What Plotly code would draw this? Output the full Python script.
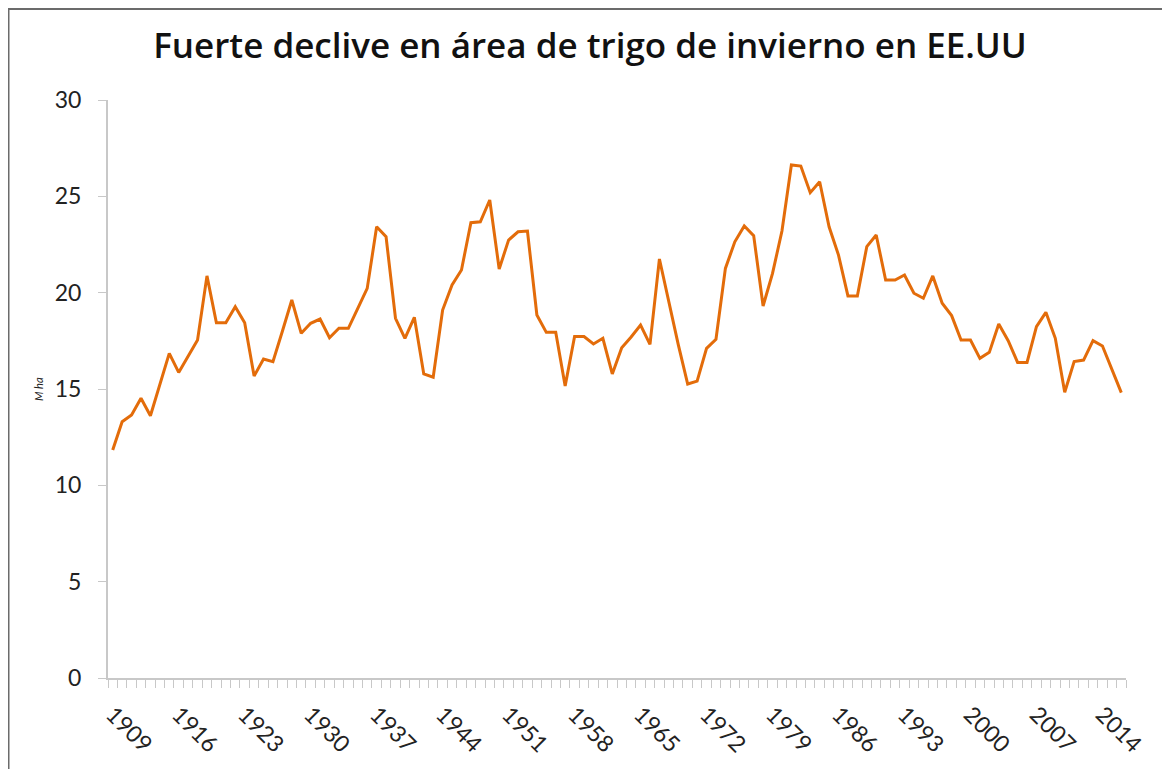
import plotly.graph_objects as go

years = list(range(1909, 2017))
area_mha = [
    11.83, 13.30, 13.65, 14.52, 13.61, 15.25, 16.85, 15.86, 16.68, 17.54,  # 1909-1918
    20.87, 18.44, 18.44, 19.27, 18.44, 15.67, 16.56, 16.42, 18.00, 19.62,  # 1919-1928
    17.89, 18.41, 18.63, 17.66, 18.15, 18.15, 19.19, 20.22, 23.42, 22.90,  # 1929-1938
    18.67, 17.63, 18.72, 15.78, 15.61, 19.10, 20.40, 21.18, 23.63, 23.68,  # 1939-1948
    24.81, 21.23, 22.73, 23.16, 23.20, 18.84, 17.94, 17.94, 15.16, 17.72,  # 1949-1958
    17.72, 17.34, 17.63, 15.78, 17.14, 17.70, 18.32, 17.32, 21.75, 19.50,  # 1959-1968
    17.30, 15.26, 15.41, 17.11, 17.58, 21.26, 22.64, 23.46, 22.96, 19.31,  # 1969-1978
    21.00, 23.20, 26.63, 26.57, 25.19, 25.76, 23.42, 21.95, 19.83, 19.83,  # 1979-1988
    22.39, 22.99, 20.66, 20.66, 20.92, 19.97, 19.71, 20.87, 19.45, 18.81,  # 1989-1998
    17.54, 17.54, 16.59, 16.90, 18.37, 17.51, 16.38, 16.38, 18.24, 18.98,  # 1999-2008
    17.63, 14.83, 16.42, 16.50, 17.51, 17.23, 16.04, 14.81,                # 2009-2016
]
x_tick_years = list(range(1909, 2017, 7))
x_tick_labels = [str(y) for y in x_tick_years]
y_ticks = [0, 5, 10, 15, 20, 25, 30]

title_text = "Fuerte declive en área de trigo de invierno en EE.UU"
y_title = "M ha"

FONT = "Lato"
# the page body adds an 8px offset; figure is sized to fill the remaining window
W, H = 1162, 761
L, R, T, B = 100, 44, 92, 91
pw, ph = W - L - R, H - T - B

fig = go.Figure()
fig.add_trace(go.Scatter(
    x=years, y=area_mha, mode="lines",
    line=dict(color="#E36C0A", width=3),
    hoverinfo="x+y", showlegend=False,
))

fig.update_layout(
    width=W, height=H,
    margin=dict(l=L, r=R, t=T, b=B, autoexpand=False),
    paper_bgcolor="white", plot_bgcolor="white",
    title=dict(text=title_text, x=(590 - 8) / W, xanchor="center",
               y=1 - 38 / H, yanchor="middle",
               font=dict(family="Open Sans", size=35, weight=600, color="#111111")),
    font=dict(family=FONT, color="#222222"),
    xaxis=dict(
        range=[1908.5, 2016.5], tickmode="array",
        tickvals=x_tick_years, ticktext=x_tick_labels,
        tickangle=45, ticks="outside", ticklen=12, tickcolor="rgba(0,0,0,0)",
        tickfont=dict(family=FONT, size=23, color="#222222"),
        showgrid=False, zeroline=False,
        showline=True, linecolor="#c8c8c8", linewidth=2,
        minor=dict(ticks="outside", tick0=1908.5, dtick=1, ticklen=8,
                   tickcolor="#c8c8c8", tickwidth=1, showgrid=False),
    ),
    yaxis=dict(
        range=[0, 30], tickmode="array", tickvals=y_ticks,
        ticks="outside", ticklen=8, tickcolor="#c8c8c8", tickwidth=1,
        ticklabelstandoff=12,
        tickfont=dict(family=FONT, size=23, color="#222222"),
        showgrid=False, zeroline=False,
        showline=True, linecolor="#c8c8c8", linewidth=2,
    ),
    annotations=[dict(
        text="<i>" + y_title + "</i>", textangle=-90,
        xref="paper", yref="paper", x=(38 - 8 - L) / pw, y=0.5,
        xanchor="center", yanchor="middle", showarrow=False,
        font=dict(family=FONT, size=11, color="#222222"),
    )],
    shapes=[dict(
        type="path", xref="paper", yref="paper",
        path="M {x0},{y0} L {x0},{y1} L {x2},{y1}".format(
            x0=(0.5 - L) / pw, y0=-(B + 5) / ph,
            y1=1 + (T - 1) / ph, x2=(W + 5 - L) / pw),
        line=dict(color="#6b6b6b", width=2), layer="above",
    )],
)

fig.write_html("out.html")
